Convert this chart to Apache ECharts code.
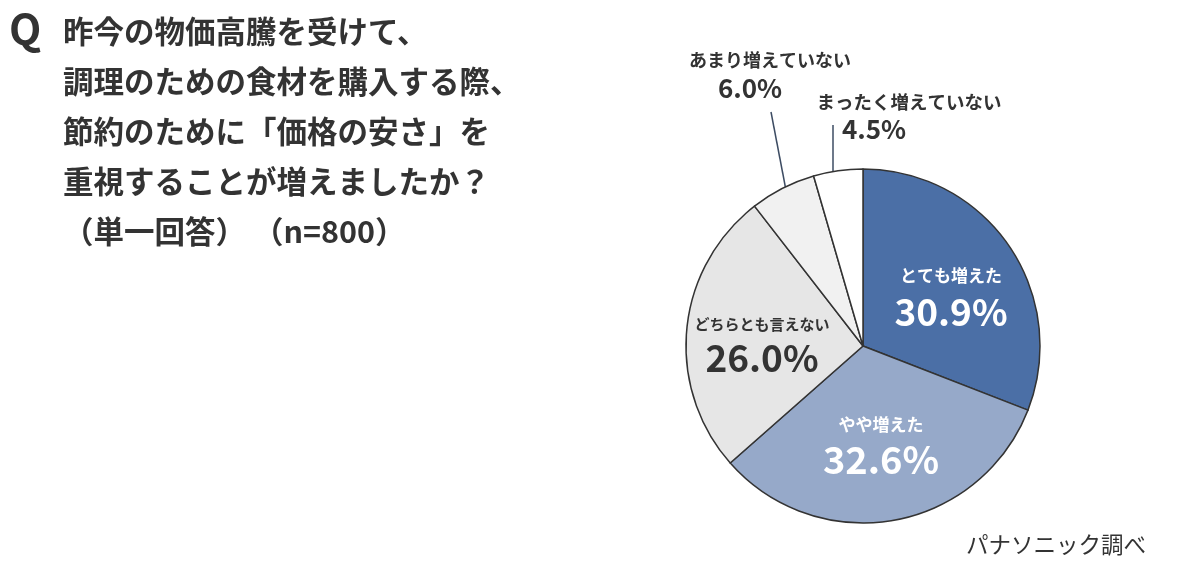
<!DOCTYPE html>
<html><head><meta charset="utf-8">
<script src="https://cdn.jsdelivr.net/npm/echarts@6/dist/echarts.min.js"></script>
<style>html,body{margin:0;padding:0;background:#fff}#c{width:1199px;height:571px}</style>
</head><body><div id="c"></div>
<script>
const categories = ['とても増えた', 'やや増えた', 'どちらとも言えない', 'あまり増えていない', 'まったく増えていない'];
const values = [30.9, 32.6, 26.0, 6.0, 4.5];
const titleLines = ['昨今の物価高騰を受けて、', '調理のための食材を購入する際、', '節約のために「価格の安さ」を', '重視することが増えましたか？', '（単一回答） （n=800）'];
const sourceText = 'パナソニック調べ';

const colors = ['#4b6fa6', '#96a9c9', '#e6e6e6', '#f1f1f1', '#ffffff'];
const FONT = '"Noto Sans CJK JP", "Noto Sans", sans-serif';
// label placement (styling only)
const labelPos = [
  {x: 951, y: 298, nameSize: 17, valSize: 37, color: '#fff', gap: 8},
  {x: 881, y: 446, nameSize: 17, valSize: 38, color: '#fff', gap: 4},
  {x: 762, y: 345, nameSize: 15, valSize: 37, color: '#333', gap: 4},
  {x: 770, y: 74, nameSize: 18, valSize: 26, color: '#333', gap: 2, valPad: [0, 40, 0, 0], line: [[794, 232], [771, 112]]},
  {x: 909, y: 115, nameSize: 18.5, valSize: 26, color: '#333', gap: 0, valPad: [0, 70, 0, 0], line: [[833, 210], [833, 125]]}
];

const data = categories.map((name, i) => {
  const p = labelPos[i];
  return {
    name, value: values[i],
    itemStyle: {color: colors[i]},
    label: {
      formatter: (prm) => '{a|' + prm.name + '}\n{v|' + prm.value.toFixed(1) + '%}',
      rich: {
        a: {fontFamily: FONT, fontWeight: 'bold', fontSize: p.nameSize, color: p.color, lineHeight: p.nameSize + 10},
        v: {fontFamily: FONT, fontWeight: 'bold', fontSize: p.valSize, color: p.color, lineHeight: p.valSize + p.gap, padding: p.valPad || [0, 0, 0, 0]}
      }
    }
  };
});

const chart = echarts.init(document.getElementById('c'), null, {renderer: 'canvas'});
chart.setOption({
  backgroundColor: '#fff',
  animation: false,
  title: [
    {text: 'Q', left: 4, top: 3, textStyle: {fontFamily: FONT, fontWeight: 'bold', fontSize: 42, color: '#333'}},
    {text: titleLines.join('\n'), left: 58, top: 1, textStyle: {fontFamily: FONT, fontWeight: 'bold', fontSize: 30.5, lineHeight: 50, color: '#333'}},
    {text: sourceText, left: 961, top: 528, textStyle: {fontFamily: FONT, fontWeight: 'normal', fontSize: 22.5, color: '#333'}}
  ],
  series: [{
    type: 'pie',
    center: [863, 346],
    radius: [0, 177],
    startAngle: 90,
    clockwise: true,
    itemStyle: {borderColor: '#333', borderWidth: 1.5},
    label: {show: true, position: 'outside'},
    labelLine: {show: true, length: 5, length2: 5, lineStyle: {color: '#3d4c63', width: 1.5}},
    labelLayout: function (params) {
      const p = labelPos[params.dataIndex];
      const r = {x: p.x, y: p.y, align: 'center', verticalAlign: 'middle'};
      if (p.line) r.labelLinePoints = [p.line[0], p.line[1], p.line[1]];
      else r.labelLinePoints = [[0, 0], [0, 0], [0, 0]];
      return r;
    },
    data: data
  }]
});
</script></body></html>
